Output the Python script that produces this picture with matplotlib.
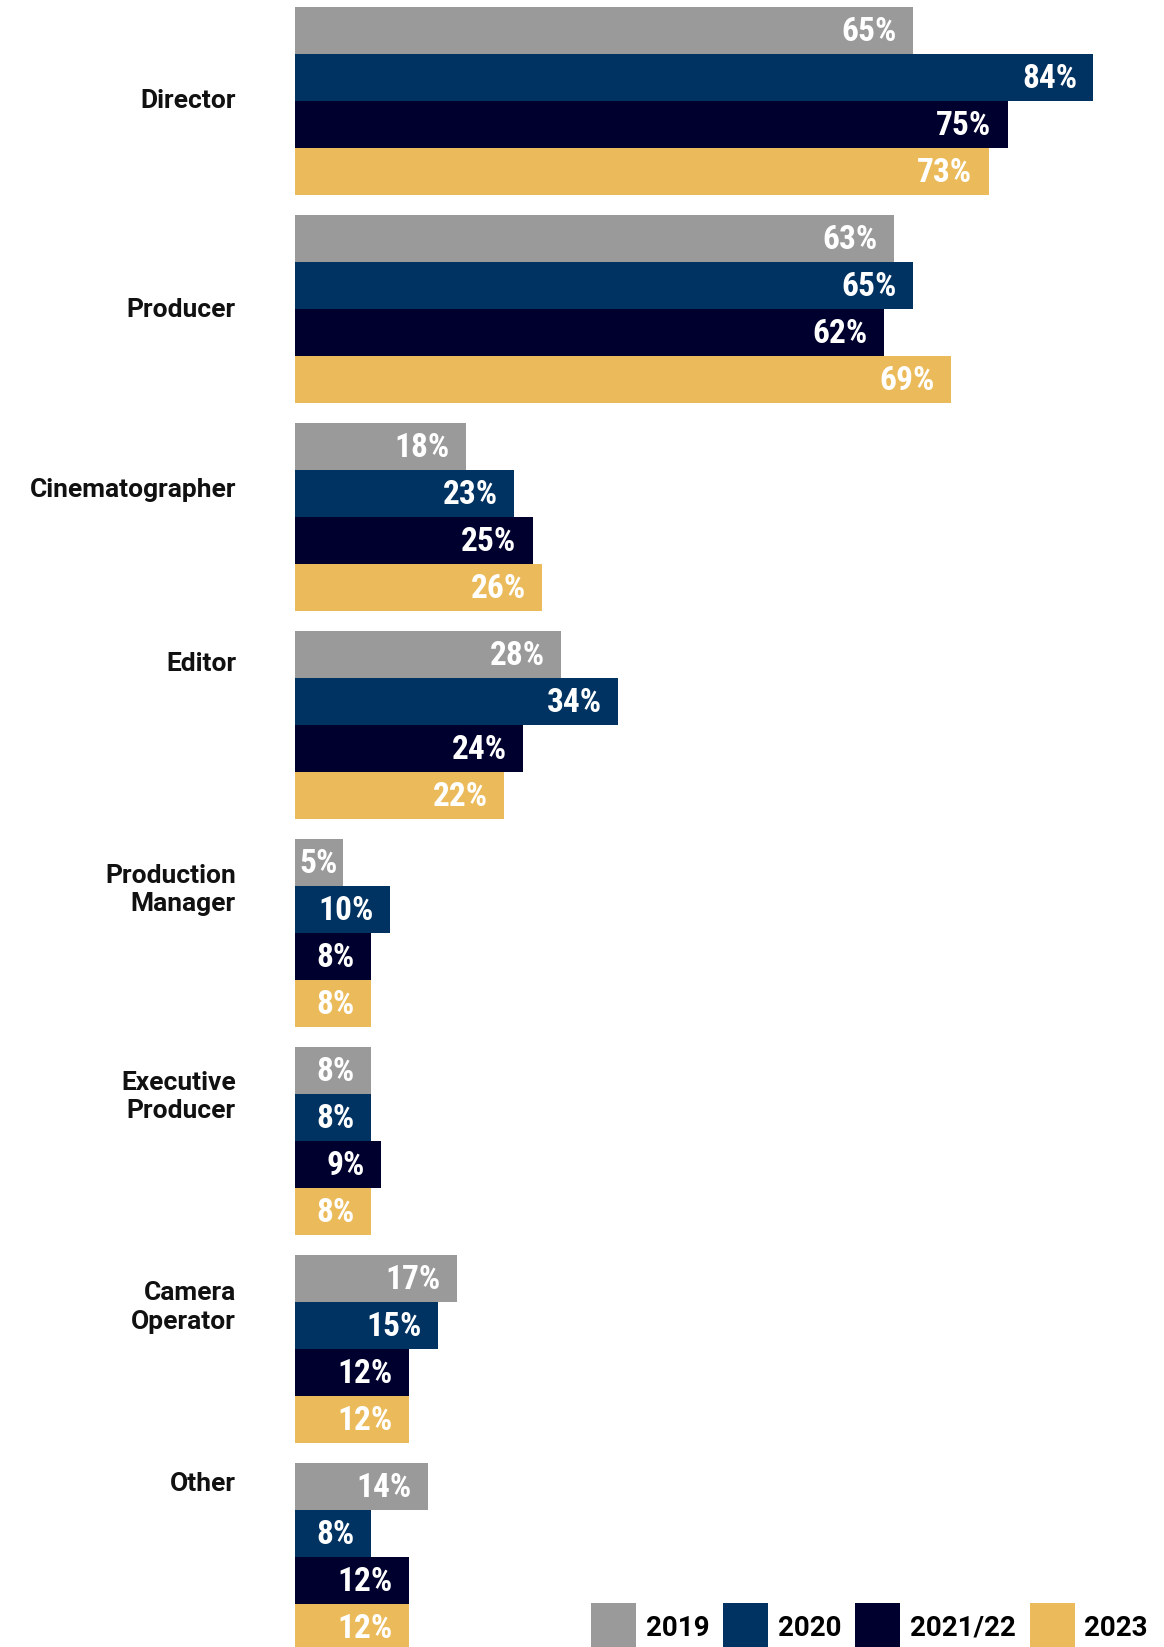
import matplotlib
matplotlib.use("Agg")
import matplotlib.pyplot as plt
from matplotlib import font_manager
from matplotlib.patches import Patch
from matplotlib.transforms import ScaledTranslation

# ---- data ----
roles = [
    "Director",
    "Producer",
    "Cinematographer",
    "Editor",
    "Production\nManager",
    "Executive\nProducer",
    "Camera\nOperator",
    "Other",
]
years = ["2019", "2020", "2021/22", "2023"]
share_2019 = [65, 63, 18, 28, 5, 8, 17, 14]
share_2020 = [84, 65, 23, 34, 10, 8, 15, 8]
share_2021_22 = [75, 62, 25, 24, 8, 9, 12, 12]
share_2023 = [73, 69, 26, 22, 8, 8, 12, 12]
series = [share_2019, share_2020, share_2021_22, share_2023]

# ---- styles ----
colors = ["#9a9a9a", "#003262", "#00002e", "#ebbb5b"]
# where each role name sits, measured in bar heights from the group top
label_offsets = [2.01, 2.03, 1.42, 0.70, 1.08, 1.06, 1.11, 0.43]


def first_font(names, weight="bold"):
    for name in names:
        try:
            font_manager.findfont(
                font_manager.FontProperties(family=name, weight=weight),
                fallback_to_default=False,
            )
            return name
        except ValueError:
            pass
    return "DejaVu Sans"


label_font = first_font(["Roboto", "Inter", "DejaVu Sans"])
value_font = first_font(["Roboto Condensed", "Liberation Sans Narrow", "Roboto"])

W, H, DPI = 1164, 1647, 100
left_px = 295
px_per_pct = 9.5
bar_px = 46.85
top_px = 7.3
group_pitch = 4.44

fig = plt.figure(figsize=(W / DPI, H / DPI), dpi=DPI)
ax = fig.add_axes([left_px / W, 0, (W - left_px) / W, 1])
ax.set_xlim(0, (W - left_px) / px_per_pct)
ax.set_ylim((H - top_px) / bar_px, -top_px / bar_px)
ax.axis("off")

pad = 16 / px_per_pct
for j, (vals, color) in enumerate(zip(series, colors)):
    ys = [i * group_pitch + j + 0.5 for i in range(len(roles))]
    ax.barh(ys, vals, height=1.0, color=color, linewidth=0)
    for y, v in zip(ys, vals):
        if v * px_per_pct < 60:
            x, ha = v / 2, "center"
        else:
            x, ha = v - pad, "right"
        ax.text(x, y + 0.03, f"{v}%", ha=ha, va="center", color="white",
                fontsize=24, fontweight="bold", family=value_font)

label_trans = ax.get_yaxis_transform() + ScaledTranslation(-59 / DPI, 0, fig.dpi_scale_trans)
for i, (role, off) in enumerate(zip(roles, label_offsets)):
    ax.text(0, i * group_pitch + off, role, transform=label_trans,
            ha="right", va="center", fontsize=19, fontweight="bold",
            family=label_font, linespacing=1.25, color="#111111")

handles = [Patch(facecolor=c, edgecolor="none", label=yr) for c, yr in zip(colors, years)]
fig.legend(
    handles=handles,
    loc="upper left",
    bbox_to_anchor=(591 / W, 1 - 1603 / H),
    ncol=4,
    frameon=False,
    prop=dict(family=label_font, weight="bold", size=20),
    handlelength=1.62,
    handleheight=2.3,
    handletextpad=0.35,
    columnspacing=0.5,
    borderpad=0,
    borderaxespad=0,
)

fig.savefig("out.png", dpi=DPI)
